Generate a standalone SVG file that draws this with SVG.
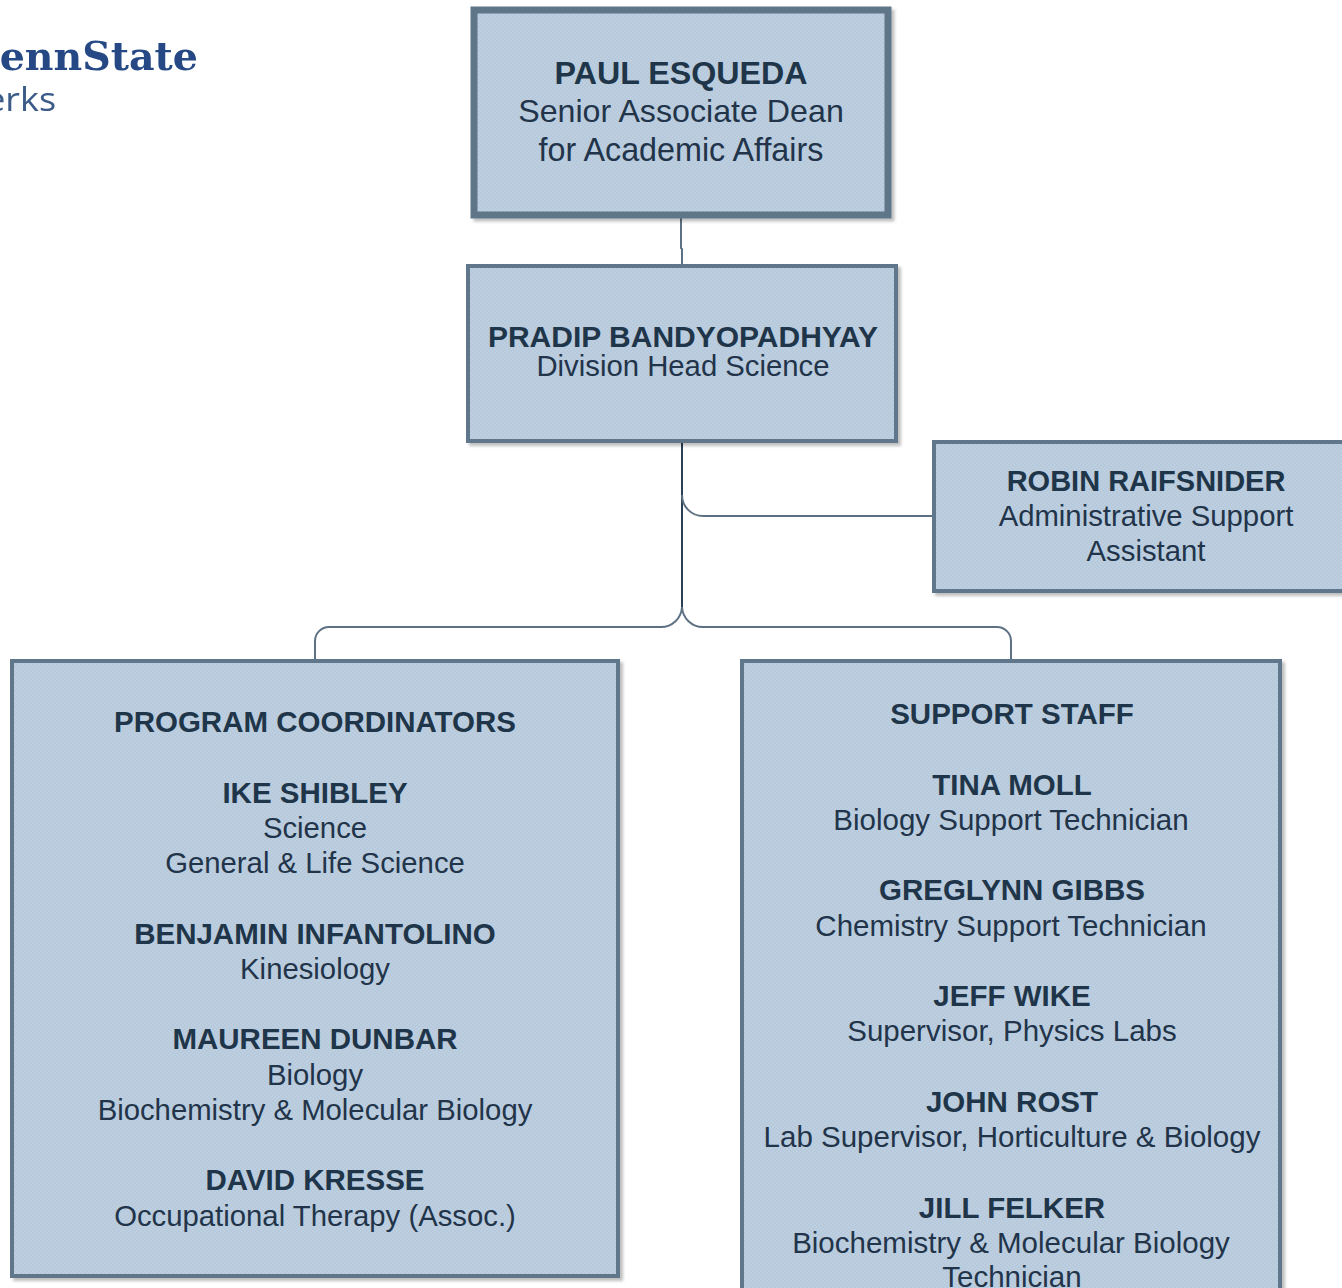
<svg xmlns="http://www.w3.org/2000/svg" width="1342" height="1288" viewBox="0 0 1342 1288">
<style>
text{font-family:"Liberation Sans",Arial,sans-serif;fill:#22344a;text-anchor:middle;font-size:29.3px}
.b{font-weight:bold;fill:#1f3549;font-size:29.5px}
#support text{font-size:29.5px}
.box{fill:url(#dots);stroke:#61778b;stroke-width:4;filter:url(#sh)}
.c{fill:none;stroke:#5d7184;stroke-width:2}
</style>
<defs>
<pattern id="dots" width="4" height="4" patternUnits="userSpaceOnUse">
<rect width="4" height="4" fill="#bccedf"/>
<rect width="2" height="2" fill="#b7cadc"/>
<rect x="2" y="2" width="2" height="2" fill="#b7cadc"/>
</pattern>
<filter id="sh" x="-5%" y="-5%" width="110%" height="110%"><feDropShadow dx="3" dy="3" stdDeviation="1.5" flood-color="#000" flood-opacity=".25"/></filter>
<filter id="soft"><feGaussianBlur stdDeviation="0.6"/></filter>
</defs>
<rect width="1342" height="1288" fill="#fff"/>
<g id="logo" filter="url(#soft)">
<text x="-29" y="70" textLength="227" lengthAdjust="spacingAndGlyphs" style="font-size:40px;font-weight:bold;font-family:'DejaVu Serif',serif;fill:#264a85;text-anchor:start">PennState</text>
<text x="-38" y="111" textLength="94" lengthAdjust="spacingAndGlyphs" style="font-family:'Open Sans',sans-serif;font-size:33px;text-anchor:start;fill:#3a5a88">Berks</text>
</g>
<g id="connectors">
<path class="c" d="M681 217V248L682 249V266"/>
<path d="M682 440V607" fill="none" stroke="#2b4055" stroke-width="2"/>
<path class="c" d="M682 495A21 21 0 0 0 703 516H934"/>
<path class="c" d="M682 607A21 21 0 0 1 661 627H329A14 14 0 0 0 315 641V661"/>
<path class="c" d="M682 607A21 21 0 0 0 703 627H997A14 14 0 0 1 1011 641V661"/>
</g>
<g id="paul">
<rect x="474" y="10" width="414" height="205" fill="url(#dots)" stroke="#5f7488" stroke-width="7" filter="url(#sh)"/>
<text class="b" x="681" y="84" style="font-size:32.2px">PAUL ESQUEDA</text>
<text x="681" y="122" style="font-size:32.2px">Senior Associate Dean</text>
<text x="681" y="161" style="font-size:32.3px">for Academic Affairs</text>
</g>
<g id="pradip">
<rect class="box" x="468" y="266" width="428" height="175"/>
<text class="b" x="683" y="347" style="font-size:30px">PRADIP BANDYOPADHYAY</text>
<text x="683" y="376">Division Head Science</text>
</g>
<g id="robin">
<rect class="box" x="934" y="442" width="420" height="149"/>
<text class="b" x="1146" y="491" style="font-size:29px">ROBIN RAIFSNIDER</text>
<text x="1146" y="526">Administrative Support</text>
<text x="1146" y="561">Assistant</text>
</g>
<g id="coordinators">
<rect class="box" x="12" y="661" width="606" height="615"/>
<text class="b" x="315" y="732">PROGRAM COORDINATORS</text>
<text class="b" x="315" y="803">IKE SHIBLEY</text>
<text x="315" y="838">Science</text>
<text x="315" y="873">General &amp; Life Science</text>
<text class="b" x="315" y="944">BENJAMIN INFANTOLINO</text>
<text x="315" y="979">Kinesiology</text>
<text class="b" x="315" y="1049">MAUREEN DUNBAR</text>
<text x="315" y="1085">Biology</text>
<text x="315" y="1120">Biochemistry &amp; Molecular Biology</text>
<text class="b" x="315" y="1190">DAVID KRESSE</text>
<text x="315" y="1226">Occupational Therapy (Assoc.)</text>
</g>
<g id="support">
<rect class="box" x="742" y="661" width="538" height="660"/>
<text class="b" x="1012" y="724">SUPPORT STAFF</text>
<text class="b" x="1012" y="795">TINA MOLL</text>
<text x="1011" y="830">Biology Support Technician</text>
<text class="b" x="1012" y="900">GREGLYNN GIBBS</text>
<text x="1011" y="936">Chemistry Support Technician</text>
<text class="b" x="1012" y="1006">JEFF WIKE</text>
<text x="1012" y="1041">Supervisor, Physics Labs</text>
<text class="b" x="1012" y="1112">JOHN ROST</text>
<text x="1012" y="1147">Lab Supervisor, Horticulture &amp; Biology</text>
<text class="b" x="1012" y="1218">JILL FELKER</text>
<text x="1011" y="1253">Biochemistry &amp; Molecular Biology</text>
<text x="1012" y="1287">Technician</text>
</g>
</svg>
